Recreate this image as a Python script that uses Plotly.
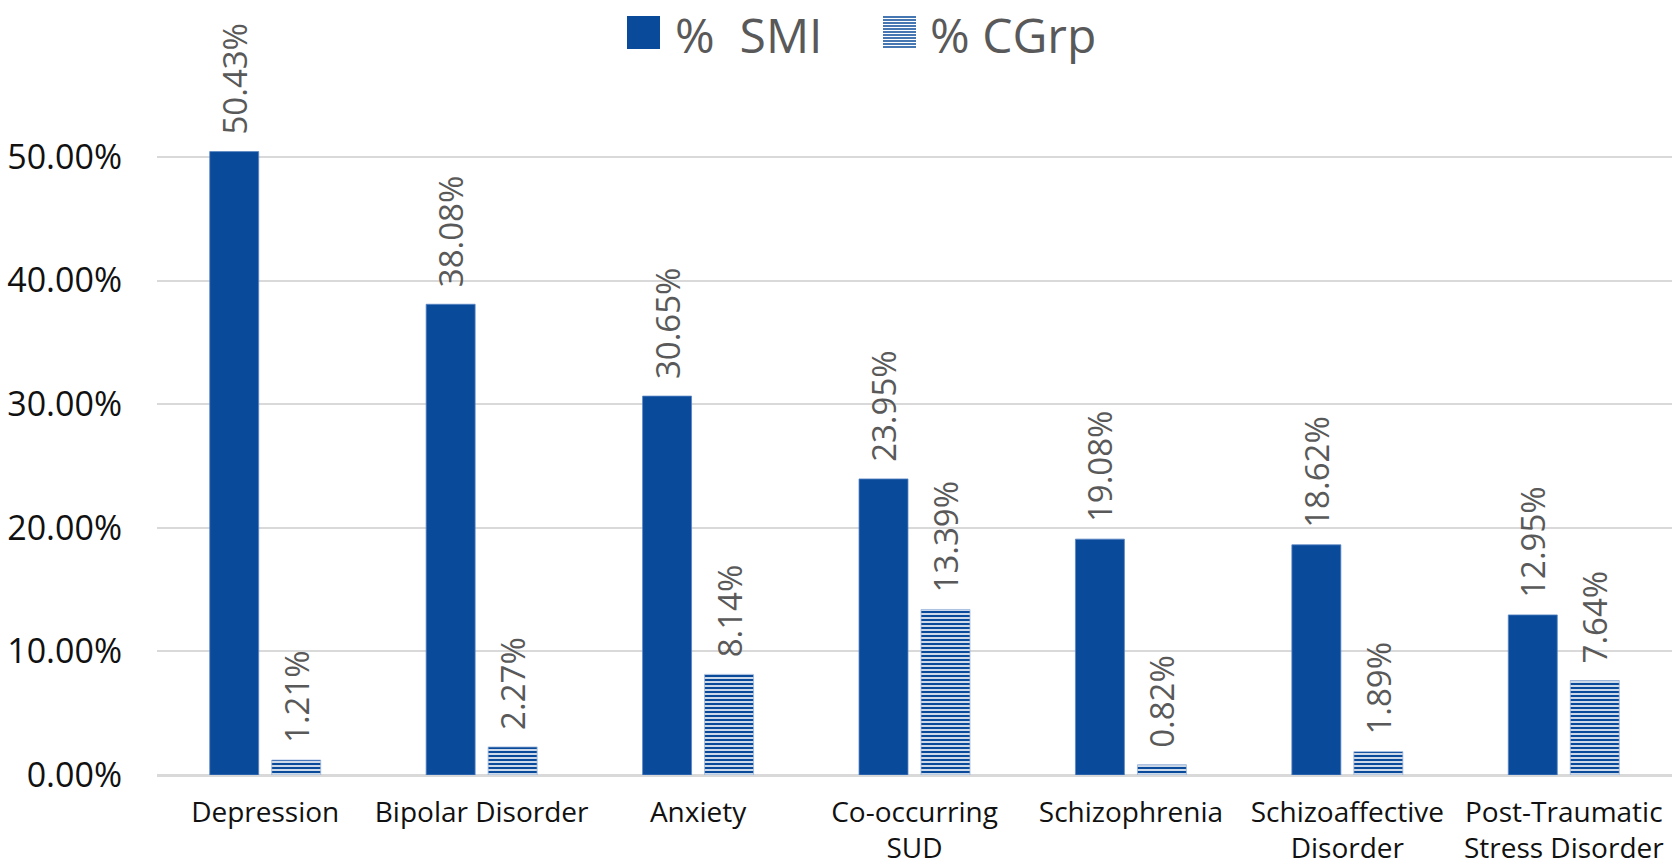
import plotly.graph_objects as go

categories = ["Depression", "Bipolar Disorder", "Anxiety", "Co-occurring<br>SUD",
              "Schizophrenia", "Schizoaffective<br>Disorder", "Post-Traumatic<br>Stress Disorder"]
smi = [0.5043, 0.3808, 0.3065, 0.2395, 0.1908, 0.1862, 0.1295]
cgrp = [0.0121, 0.0227, 0.0814, 0.1339, 0.0082, 0.0189, 0.0764]
series_names = ["%  SMI", "% CGrp"]
y_ticks = [0, 0.1, 0.2, 0.3, 0.4, 0.5]

BLUE = "#0A4A9A"
W, H = 1672, 868
L, R, T, B = 157, 0, 58, 93
FONT = "Open Sans"
LABEL_PAD = "\u00a0\u2009"

fig = go.Figure()
fig.add_trace(go.Bar(
    x=categories, y=smi, name=series_names[0],
    marker=dict(color=BLUE, line=dict(color="#5B86C4", width=0.8)),
    texttemplate=LABEL_PAD + "%{y:.2%}", textposition="outside", textangle=-90,
    textfont=dict(family=FONT, size=33, color="#595959"),
    cliponaxis=False, constraintext="none",
))
fig.add_trace(go.Bar(
    x=categories, y=cgrp, name=series_names[1],
    marker=dict(color="white", line=dict(color="#9DB5DA", width=0.8),
                pattern=dict(shape="-", fgcolor=BLUE, bgcolor="white", size=4, solidity=0.6,
                             fillmode="replace", fgopacity=1)),
    texttemplate=LABEL_PAD + "%{y:.2%}", textposition="outside", textangle=-90,
    textfont=dict(family=FONT, size=33, color="#595959"),
    cliponaxis=False, constraintext="none",
))

pw, ph = W - L - R, H - T - B
def px(x):
    return (x - L) / pw
def py(y):
    return (H - B - y) / ph

shapes = []
annotations = []
shapes.append(dict(type="rect", xref="paper", yref="paper",
                   x0=px(627), x1=px(660), y0=py(49), y1=py(16),
                   fillcolor=BLUE, line=dict(width=0)))
for i in range(11):
    yy = 17 + i * 3
    shapes.append(dict(type="line", xref="paper", yref="paper",
                       x0=px(883), x1=px(916), y0=py(yy), y1=py(yy),
                       line=dict(color=BLUE, width=1.6)))
annotations.append(dict(xref="paper", yref="paper", x=px(673), y=py(0), xanchor="left", yanchor="top",
                        text=series_names[0], showarrow=False,
                        font=dict(family=FONT, size=48, color="#595959")))
annotations.append(dict(xref="paper", yref="paper", x=px(928), y=py(0), xanchor="left", yanchor="top",
                        text=series_names[1], showarrow=False,
                        font=dict(family=FONT, size=48, color="#595959")))

fig.update_layout(
    width=W, height=H,
    margin=dict(l=L, r=R, t=T, b=B, pad=0),
    paper_bgcolor="white", plot_bgcolor="white",
    barmode="group", bargap=0.427, bargroupgap=0.21,
    showlegend=False,
    shapes=shapes, annotations=annotations,
    font=dict(family=FONT),
    xaxis=dict(showline=True, linecolor="#D9D9D9", linewidth=2, ticks="",
               tickfont=dict(family=FONT, size=28, color="#111111"), tickangle=0,
               ticklabelstandoff=11, showgrid=False, automargin=False),
    yaxis=dict(range=[0, 0.58], tickvals=y_ticks, tickformat=".2%",
               showgrid=True, gridcolor="#D9D9D9", gridwidth=1.5,
               zeroline=True, zerolinecolor="#D9D9D9", zerolinewidth=2,
               showline=False, ticks="", ticklabelstandoff=34, automargin=False,
               tickfont=dict(family=FONT, size=34, color="#111111")),
)

fig.write_html("out.html")
